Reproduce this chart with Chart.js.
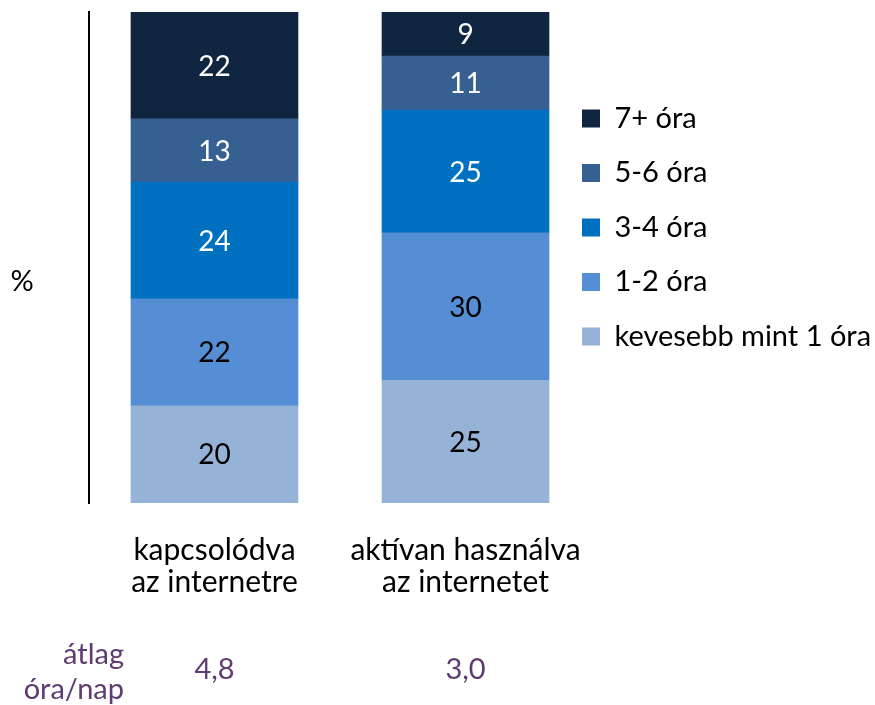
<!DOCTYPE html>
<html>
<head>
<meta charset="utf-8">
<script src="https://cdn.jsdelivr.net/npm/chart.js@4.4.1/dist/chart.umd.min.js"></script>
<style>
  html, body { margin: 0; padding: 0; background: #fff; }
</style>
</head>
<body>
<canvas id="chart" width="875" height="705"></canvas>
<script>
const categories = [["kapcsolódva", "az internetre"], ["aktívan használva", "az internetet"]];
const seriesNames = ["kevesebb mint 1 óra", "1-2 óra", "3-4 óra", "5-6 óra", "7+ óra"];
const lessThan1 = [20, 25];
const hours1to2 = [22, 30];
const hours3to4 = [24, 25];
const hours5to6 = [13, 11];
const hours7plus = [22, 9];
const averages = ["4,8", "3,0"];
const averageTitle = ["átlag", "óra/nap"];

const seriesValues = [lessThan1, hours1to2, hours3to4, hours5to6, hours7plus];
const colors = ["#95B3D7", "#558ED5", "#0070C0", "#376092", "#10253F"];
const labelColors = ["#000", "#000", "#fff", "#fff", "#fff"];
const fontFamily = "Lato, 'Open Sans', sans-serif";
const purple = "#5F3B72";

// 100% stacked: each column is scaled to its own total
const totals = categories.map((c, i) => seriesValues.reduce((s, v) => s + v[i], 0));

const datasets = seriesNames.map((name, k) => ({
    label: name,
    data: seriesValues[k].map((v, i) => v / totals[i] * 100),
    raw: seriesValues[k],
    backgroundColor: colors[k],
    borderWidth: 0,
    barThickness: 167
}));

const extras = {
    id: "extras",
    afterLayout(chart) {
        // move the legend block to where the reference has it
        const lg = chart.legend;
        const pad = lg.options.labels.padding;
        lg.left = 582 - pad;
        lg.right = chart.width;
        lg.width = lg.right - lg.left;
        lg.top = 104 - pad;
    },
    afterDatasetsDraw(chart) {
        const ctx = chart.ctx;
        ctx.save();
        ctx.font = "28px " + fontFamily;
        ctx.textAlign = "center";
        ctx.textBaseline = "middle";
        chart.data.datasets.forEach((ds, k) => {
            const meta = chart.getDatasetMeta(k);
            meta.data.forEach((bar, i) => {
                ctx.fillStyle = labelColors[k];
                ctx.fillText(String(ds.raw[i]), bar.x, (bar.y + bar.base) / 2 + 1);
            });
        });
        ctx.restore();
    },
    afterDraw(chart) {
        const ctx = chart.ctx;
        const x = chart.scales.x;
        ctx.save();
        ctx.font = "29px " + fontFamily;
        ctx.textBaseline = "middle";
        ctx.fillStyle = "#000";
        ctx.textAlign = "center";
        ctx.fillText("%", 22, 282);
        ctx.fillStyle = purple;
        ctx.textAlign = "right";
        ctx.fillText(averageTitle[0], 124, 655);
        ctx.fillText(averageTitle[1], 124, 690);
        ctx.textAlign = "center";
        averages.forEach((a, i) => {
            ctx.fillText(a, x.getPixelForValue(i), 670);
        });
        ctx.restore();
    }
};

new Chart(document.getElementById("chart"), {
    type: "bar",
    data: { labels: categories, datasets: datasets },
    options: {
        responsive: false,
        animation: false,
        layout: { padding: { top: 12, left: 0, right: 0, bottom: 0 } },
        scales: {
            x: {
                stacked: true,
                grid: { display: false, drawTicks: false },
                border: { display: false },
                ticks: {
                    color: "#000",
                    padding: 31,
                    font: { family: fontFamily, size: 30, lineHeight: 1.07 }
                },
                afterFit(scale) { scale.height = 202; }
            },
            y: {
                stacked: true,
                min: 0,
                max: 100,
                grid: { display: false, drawTicks: false },
                border: { display: true, color: "#000", width: 2 },
                ticks: { display: false },
                afterFit(scale) { scale.width = 89; }
            }
        },
        plugins: {
            tooltip: { enabled: false },
            legend: {
                position: "right",
                align: "start",
                reverse: true,
                maxWidth: 284,
                labels: {
                    boxWidth: 18,
                    boxHeight: 18,
                    padding: 25.5,
                    color: "#000",
                    font: { family: fontFamily, size: 29 }
                }
            }
        }
    },
    plugins: [extras]
});
</script>
</body>
</html>
